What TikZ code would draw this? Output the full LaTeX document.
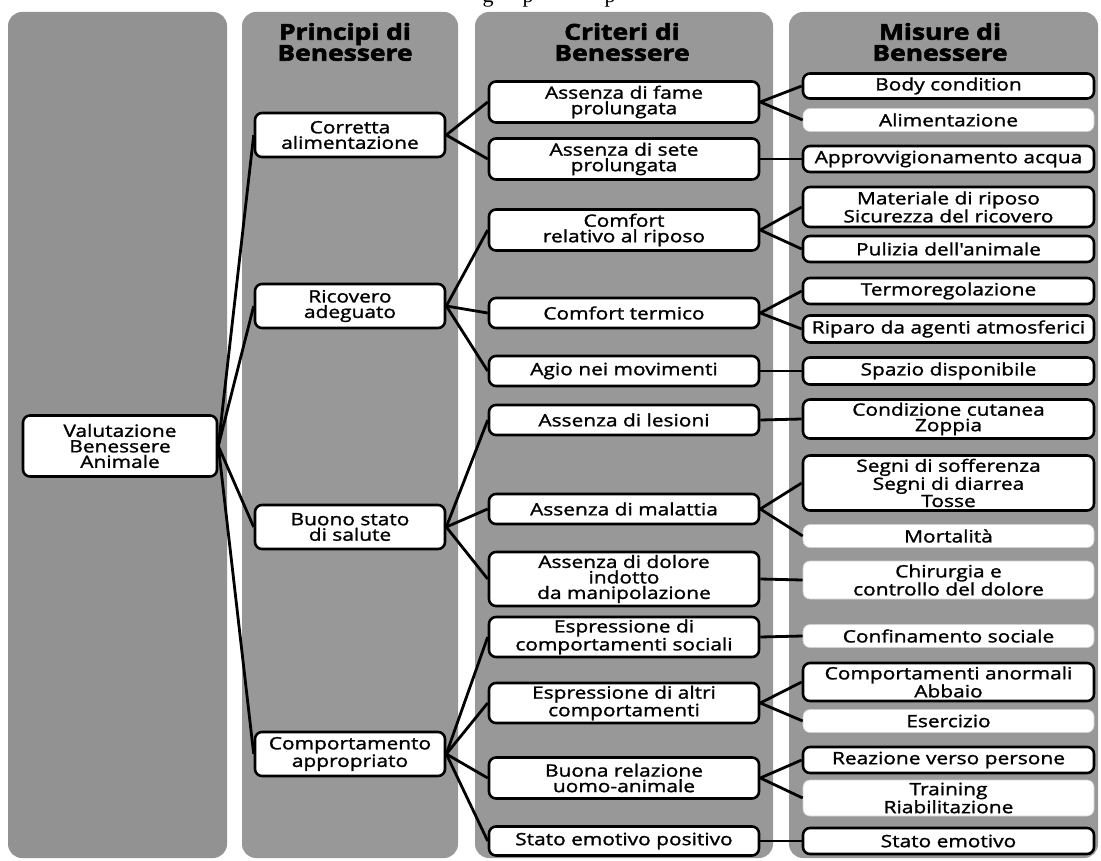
\documentclass[tikz,border=0pt]{standalone}
\usepackage{fontspec}
\setmainfont{Open Sans}
\newfontfamily\boxfont{Open Sans}[FakeStretch=1.23,FakeBold=1.4]
\newfontfamily\headfont{Open Sans}[FakeStretch=1.2,BoldFeatures={FakeBold=2.5}]
\newfontfamily\capfont{Liberation Serif}
\definecolor{panelgray}{RGB}{152,152,152}
\definecolor{panelgrayd}{RGB}{146,146,146}
\begin{document}
\begin{tikzpicture}[x=1pt,y=-1pt,
  panel/.style={fill=panelgray, rounded corners=14pt},
  bx/.style={draw=black, line width=2.6pt, fill=white, rounded corners=7pt, align=center,
    inner sep=0pt, text=black, font=\boxfont\fontsize{17}{15.5}\selectfont},
  soft/.style={bx, draw=white!82!black, line width=0.6pt},
  c1/.style={minimum width=194pt, minimum height=61pt},
  c2/.style={minimum width=190pt, minimum height=44pt},
  c3/.style={minimum width=270pt},
  c4/.style={minimum width=291pt},
  head/.style={align=center, inner sep=0pt, text=black, font=\headfont\bfseries\fontsize{22}{21}\selectfont},
  link/.style={line width=2.8pt, black}]
\useasboundingbox (0,0) rectangle (1101,861);
\fill[white] (0,0) rectangle (1101,861);
% caption fragments cut at the top edge
\begin{scope}
\clip (0,0) rectangle (1101,9);
\node[font=\capfont\fontsize{22}{22}\selectfont, inner sep=0pt, anchor=base] (frg) at (488,3) {g};
\node[font=\capfont\fontsize{22}{22}\selectfont, inner sep=0pt, anchor=base] (frp) at (528,3) {p};
\node[font=\capfont\fontsize{22}{22}\selectfont, inner sep=0pt, anchor=base] (frq) at (610,3) {p};
\end{scope}
% panels
\fill[panel, fill=panelgrayd] (8,12) rectangle (227,858);
\fill[panel] (242,12) rectangle (458,858);
\fill[panel] (475,12) rectangle (773,858);
\fill[panel] (789,12) rectangle (1098,858);
% headers
\node[head] (h2) at (345,42) {Principi di\\Benessere};
\node[head] (h3) at (622,42) {Criteri di\\Benessere};
\node[head] (h4) at (940,42) {Misure di\\Benessere};
% column 1
\node[bx,c1] (val) at (120,446) {Valutazione\\Benessere\\Animale};
% column 2
\node[bx,c2] (cor) at (350,135) {Corretta\\alimentazione};
\node[bx,c2] (ric) at (350,306) {Ricovero\\adeguato};
\node[bx,c2] (buo) at (350,527) {Buono stato\\di salute};
\node[bx,c2] (com) at (350,754) {Comportamento\\appropriato};
% column 3
\node[bx,c3,minimum height=41pt] (fam) at (624,102) {Assenza di fame\\prolungata};
\node[bx,c3,minimum height=41pt] (set) at (624,159) {Assenza di sete\\prolungata};
\node[bx,c3,minimum height=41pt] (cri) at (624,230) {Comfort\\relativo al riposo};
\node[bx,c3,minimum height=30pt] (cte) at (624,313) {Comfort termico};
\node[bx,c3,minimum height=30pt] (agi) at (624,371) {Agio nei movimenti};
\node[bx,c3,minimum height=30pt] (les) at (624,420) {Assenza di lesioni};
\node[bx,c3,minimum height=30pt] (mal) at (624,509) {Assenza di malattia};
\node[bx,c3,minimum height=54pt] (dol) at (624,579) {Assenza di dolore\\indotto\\da manipolazione};
\node[bx,c3,minimum height=40pt] (soc) at (624,637) {Espressione di\\comportamenti sociali};
\node[bx,c3,minimum height=40pt] (alt) at (624,703) {Espressione di altri\\comportamenti};
\node[bx,c3,minimum height=41pt] (rel) at (624,778) {Buona relazione\\uomo-animale};
\node[bx,c3,minimum height=29pt] (emp) at (624,841) {Stato emotivo positivo};
% column 4
\node[bx,c4,minimum height=25pt] (bod) at (948.5,86) {Body condition};
\node[soft,c4,minimum height=23pt] (ali) at (948.5,120) {Alimentazione};
\node[bx,c4,minimum height=26pt] (app) at (948.5,159) {Approvvigionamento acqua};
\node[bx,c4,minimum height=40pt] (mat) at (948.5,207) {Materiale di riposo\\Sicurezza del ricovero};
\node[bx,c4,minimum height=26pt] (pul) at (948.5,249) {Pulizia dell'animale};
\node[bx,c4,minimum height=26pt] (ter) at (948.5,291) {Termoregolazione};
\node[bx,c4,minimum height=27pt] (rip) at (948.5,329) {Riparo da agenti atmosferici};
\node[bx,c4,minimum height=27pt] (spa) at (948.5,371) {Spazio disponibile};
\node[bx,c4,minimum height=39pt] (cut) at (948.5,419) {Condizione cutanea\\Zoppia};
\node[bx,c4,minimum height=55pt] (seg) at (948.5,483) {Segni di sofferenza\\Segni di diarrea\\Tosse};
\node[soft,c4,minimum height=23pt] (mor) at (948.5,536) {Mortalità};
\node[soft,c4,minimum height=38pt] (chi) at (948.5,580) {Chirurgia e\\controllo del dolore};
\node[soft,c4,minimum height=23pt] (con) at (948.5,636) {Confinamento sociale};
\node[bx,c4,minimum height=38pt] (anr) at (948.5,682) {Comportamenti anormali\\Abbaio};
\node[soft,c4,minimum height=23pt] (ese) at (948.5,721) {Esercizio};
\node[bx,c4,minimum height=26pt] (rea) at (948.5,760) {Reazione verso persone};
\node[soft,c4,minimum height=36pt] (tra) at (948.5,798) {Training\\Riabilitazione};
\node[bx,c4,minimum height=26pt] (sem) at (948.5,841) {Stato emotivo};
% connectors
\foreach \t in {cor,ric,buo,com} \draw[link] (val.east) -- (\t.west);
\foreach \t in {fam,set} \draw[link] (cor.east) -- (\t.west);
\foreach \t in {cri,cte,agi} \draw[link] (ric.east) -- (\t.west);
\foreach \t in {les,mal,dol} \draw[link] (buo.east) -- (\t.west);
\foreach \t in {soc,alt,rel,emp} \draw[link] (com.east) -- (\t.west);
\foreach \t in {bod,ali} \draw[link] (fam.east) -- (\t.west);
\draw[link] (set.east) -- (app.west);
\foreach \t in {mat,pul} \draw[link] (cri.east) -- (\t.west);
\foreach \t in {ter,rip} \draw[link] (cte.east) -- (\t.west);
\draw[link] (agi.east) -- (spa.west);
\draw[link] (les.east) -- (cut.west);
\foreach \t in {seg,mor} \draw[link] (mal.east) -- (\t.west);
\draw[link] (dol.east) -- (chi.west);
\draw[link] (soc.east) -- (con.west);
\foreach \t in {anr,ese} \draw[link] (alt.east) -- (\t.west);
\foreach \t in {rea,tra} \draw[link] (rel.east) -- (\t.west);
\draw[link] (emp.east) -- (sem.west);
\end{tikzpicture}
\end{document}
